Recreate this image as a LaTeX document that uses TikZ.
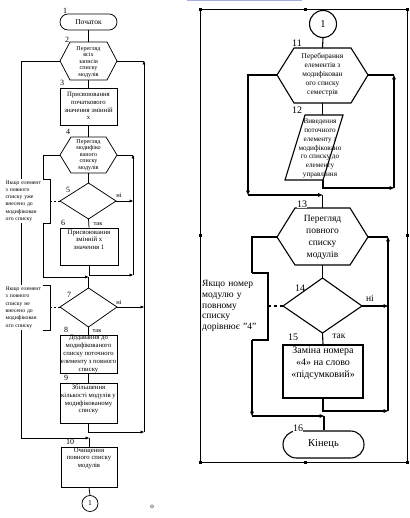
\documentclass[tikz,border=0pt]{standalone}
\usepackage{fontspec}
\setmainfont{Liberation Serif}
\usetikzlibrary{arrows.meta}
\definecolor{topblue}{RGB}{160,175,230}
\begin{document}
\begin{tikzpicture}[x=1pt,y=-1pt,
  ln/.style={line width=0.75pt},
  lnR/.style={line width=1.1pt},
  tip/.style={-{Triangle[length=3.4pt,width=2.8pt]}},
  tipR/.style={-{Triangle[length=4.4pt,width=3.6pt]}},
  t/.style={inner sep=0pt, align=center},
  fs/.style={font=\fontsize{6.7}{7.8}\selectfont},
  fh/.style={font=\fontsize{6.1}{6.5}\selectfont},
  fa/.style={font=\fontsize{5.7}{7.3}\selectfont},
  num/.style={inner sep=0.3pt, font=\fontsize{8}{8}\selectfont},
  numR/.style={inner sep=0.3pt, font=\fontsize{10}{10}\selectfont},
  lab/.style={inner sep=0pt, font=\fontsize{6.5}{6.5}\selectfont},
  labR/.style={inner sep=0pt, font=\fontsize{9.5}{9.5}\selectfont},
  boxL/.style={draw, ln, inner sep=0pt},
  boxR/.style={draw, lnR, inner sep=0pt},
  handle/.style={fill=black, minimum size=3pt, inner sep=0pt},
  annot/.style={fill=white, inner sep=0pt, align=left, anchor=west}
]
\useasboundingbox (0,0) rectangle (409,518);
\fill[white] (0,0) rectangle (409,518);
\draw[line width=0.8pt, topblue] (187,0.8) -- (302,0.8);

% ================= LEFT CHART =================
\node[boxL, rounded corners=8pt, minimum width=57, minimum height=16,
      font=\fontsize{7.5}{8}\selectfont] (t1) at (88.5,22) {Початок};
\node[num] (n1) at (65,11) {1};

% hexagon 2
\coordinate (h2W) at (60,61); \coordinate (h2E) at (117,61);
\coordinate (h2N) at (88.5,42); \coordinate (h2S) at (88.5,80);
\draw[ln] (h2W) -- (70,42) -- (107,42) -- (h2E) -- (107,80) -- (70,80) -- cycle;
\node[t,fh] (h2) at (88.5,62) {Перегляд\\всіх\\записів\\списку\\модулів};
\node[num, fill=white] (n2) at (67,40) {2};

% box 3
\node[boxL, minimum width=57, minimum height=37] (b3) at (88.5,106.5) {};
\node[t,fs] (b3t) at (88.5,106) {Присвоювання\\початкового\\значення змінній\\х};
\node[num] (n3) at (62,83) {3};

% hexagon 4
\coordinate (h4W) at (60,155); \coordinate (h4E) at (117,155);
\coordinate (h4N) at (88.5,137); \coordinate (h4S) at (88.5,173);
\draw[ln] (h4W) -- (71,137) -- (106,137) -- (h4E) -- (106,173) -- (71,173) -- cycle;
\node[t,fh] (h4) at (88.5,155) {Перегляд\\модифіко\\ваного\\списку\\модулів};
\node[num, fill=white] (n4) at (68,132) {4};

% diamond 5
\coordinate (d5N) at (88.5,183); \coordinate (d5E) at (116,201);
\coordinate (d5S) at (88.5,219); \coordinate (d5W) at (60,201);
\draw[ln] (d5N) -- (d5E) -- (d5S) -- (d5W) -- cycle;
\node[num] (n5) at (68,190) {5};
\node[lab] (ni5) at (119,195) {ні};
\node[lab] (tak5) at (98,224) {так};

% box 6
\node[boxL, minimum width=58, minimum height=37] (b6) at (89,246.5) {};
\node[t,fs,anchor=north] (b6t) at (89,229.5) {Присвоювання\\змінній х\\значення 1};
\node[num] (n6) at (63,223) {6};

% diamond 7
\coordinate (d7N) at (88.5,288); \coordinate (d7E) at (117,307);
\coordinate (d7S) at (88.5,327); \coordinate (d7W) at (60,307);
\draw[ln] (d7N) -- (d7E) -- (d7S) -- (d7W) -- cycle;
\node[num] (n7) at (69,295) {7};
\node[lab] (ni7) at (119,302) {ні};
\node[lab] (tak7) at (97,331) {так};

% box 8
\node[boxL, minimum width=57, minimum height=38] (b8) at (88.5,354) {};
\node[t,fs] (b8t) at (88.5,354) {Додавання до\\модифікованого\\списку поточного\\елементу з повного\\списку};
\node[num] (n8) at (66,330) {8};

% box 9
\node[boxL, minimum width=57, minimum height=40] (b9) at (88.5,403) {};
\node[t,fs,anchor=north] (b9t) at (88.5,384.5) {Збільшення\\кількості модулів у\\модифікованому\\списку};
\node[num] (n9) at (66,378) {9};

% box 10
\node[boxL, minimum width=56, minimum height=40] (b10) at (89,467) {};
\node[t,fs,anchor=north] (b10t) at (89,447.5) {Очищення\\повного списку\\модулів};
\node[num, fill=white] (n10) at (70,442) {10};

% connector 1
\node[draw, ln, circle, minimum size=16, inner sep=0pt, font=\fontsize{7.5}{8}\selectfont] (c1) at (90,503.5) {1};
\node[inner sep=0pt, font=\fontsize{7}{7}\selectfont] (o) at (152,507) {о};

% annotations left
\node[annot, fa, text width=38, minimum height=44] (a5) at (5.5,201)
  {Якщо елемент\\з повного\\списку уже\\внесено до\\модифікован\\ого списку};
\node[annot, fa, text width=38, minimum height=44] (a7) at (5.5,307.5)
  {Якщо елемент\\з повного\\списку не\\внесено до\\модифікован\\ого списку};

% connectors left
\draw[ln] (t1.south) -- (h2N);
\draw[ln] (h2S) -- (b3.north);
\draw[ln] (b3.south) -- (h4N);
\draw[ln] (h4S) -- (d5N);
\draw[ln] (d5S) -- (b6.north);
\coordinate (r4a) at (133,201);
\coordinate (r4b) at (133,275);
\coordinate (r4c) at (133,155);
\draw[ln,tip] (d5E) -- (r4a);
\draw[ln,tip] (b6.south) -- (89,275) -- (r4b);
\draw[ln] (h4E) -- (r4c);
\draw[ln,tip] (r4b) -- (r4c);
\coordinate (j7) at (88.5,277);
\draw[ln] (h4W) -- (43,155) -- (43,179);
\draw[ln] (43,223) -- (43,277);
\draw[ln,tip] (43,277) -- (j7);
\draw[ln] (j7) -- (d7N);
\draw[ln] (d7S) -- (b8.north);
\draw[ln] (b8.south) -- (b9.north);
\coordinate (r2a) at (144,307);
\coordinate (r2b) at (144,432);
\coordinate (r2c) at (144,61);
\draw[ln,tip] (d7E) -- (r2a);
\draw[ln,tip] (b9.south) -- (88.5,432) -- (r2b);
\draw[ln] (h2E) -- (r2c);
\draw[ln,tip] (r2b) -- (r2c);
\coordinate (j10) at (89,438);
\draw[ln] (h2W) -- (21,61) -- (21,179);
\draw[ln] (21,223) -- (21,285);
\draw[ln] (21,330) -- (21,438);
\draw[ln,tip] (21,438) -- (j10);
\draw[ln] (j10) -- (b10.north);
\draw[ln] (b10.south) -- (c1.north);

% brackets left
\draw[ln] (43,179) -- (50,179) -- (50,223) -- (43,223);
\draw[ln, dash pattern=on 2pt off 2pt] (50,201) -- (d5W);
\draw[ln] (43,285) -- (50,285) -- (50,330) -- (43,330);
\draw[ln, dash pattern=on 2pt off 2pt] (50,307) -- (d7W);

% ================= RIGHT CHART =================
\draw[line width=1pt] (200,10) rectangle (407.5,462);
\foreach \hx/\hy in {200/10, 305/10, 407.5/10, 200/235, 407.5/235, 200/462, 305/462, 407.5/462}
  \node[handle] at (\hx,\hy) {};

\node[draw, lnR, circle, minimum size=27, inner sep=0pt, fill=white,
      font=\fontsize{10.5}{11}\selectfont] (c2) at (323,24) {1};

% hexagon 11
\coordinate (h11W) at (277,75); \coordinate (h11E) at (368,75);
\coordinate (h11N) at (322.5,48); \coordinate (h11S) at (322.5,103);
\draw[lnR] (h11W) -- (294,48) -- (351,48) -- (h11E) -- (351,103) -- (294,103) -- cycle;
\node[t, font=\fontsize{7.4}{9}\selectfont] (h11) at (322.5,75) {Перебирання\\елементів з\\модифікован\\ого списку\\семестрів};
\node[numR, fill=white] (n11) at (297,43) {11};

% parallelogram 12
\coordinate (p12N) at (322.5,115); \coordinate (p12S) at (323,180);
\draw[lnR] (305,115) -- (343,115) -- (323,180) -- (285,180) -- cycle;
\node[t, font=\fontsize{7.2}{8.8}\selectfont] (p12) at (320,148.5) {Виведення\\поточного\\елементу з\\модифіковано\\го списку до\\елементу\\управління};
\node[numR, fill=white] (n12) at (297,110) {12};

% hexagon 13
\coordinate (h13W) at (277,237); \coordinate (h13E) at (368,237);
\coordinate (h13N) at (322.5,208); \coordinate (h13S) at (322.5,265);
\draw[lnR] (h13W) -- (295,208) -- (350,208) -- (h13E) -- (350,265) -- (295,265) -- cycle;
\node[t, font=\fontsize{9.5}{12}\selectfont] (h13) at (322.5,237) {Перегляд\\повного\\списку\\модулів};
\node[numR, fill=white] (n13) at (302,204) {13};

% diamond 14
\coordinate (d14N) at (322.5,278); \coordinate (d14E) at (362,306);
\coordinate (d14S) at (322.5,333); \coordinate (d14W) at (283,306);
\draw[lnR] (d14N) -- (d14E) -- (d14S) -- (d14W) -- cycle;
\node[numR] (n14) at (300,288) {14};
\node[labR] (ni14) at (370,298) {ні};
\node[labR] (tak14) at (339,336) {так};

% box 15
\node[boxR, minimum width=80, minimum height=53] (b15) at (323,371.5) {};
\node[t, font=\fontsize{10}{11.7}\selectfont, anchor=north] (b15t) at (323,347) {Заміна номера\\«4» на слово\\«підсумковий»};
\node[numR, fill=white] (n15) at (293,337) {15};

% terminator 16
\node[boxR, rounded corners=13.5pt, minimum width=81, minimum height=27,
      font=\fontsize{10.5}{11}\selectfont] (t16) at (323.5,444.5) {Кінець};
\node[numR, fill=white] (n16) at (298,428) {16};

% annotation 14
\node[annot, font=\fontsize{9.5}{10.7}\selectfont, text width=63, minimum height=66] (a14) at (202,306)
  {Якщо номер\\модулю у\\повному\\списку\\дорівнює "4"};

% connectors right
\draw[lnR] (c2.south) -- (h11N);
\draw[lnR] (h11S) -- (p12N);
\coordinate (r11a) at (394,188);
\coordinate (r11b) at (394,75);
\draw[lnR,tipR] (p12S) -- (323,188) -- (r11a);
\draw[lnR] (h11E) -- (r11b);
\draw[lnR,tipR] (r11a) -- (r11b);
\coordinate (l11a) at (248,195);
\coordinate (j13) at (322.5,195);
\draw[lnR,tipR] (h11W) -- (248,75) -- (l11a);
\draw[lnR,tipR] (l11a) -- (j13);
\draw[lnR] (j13) -- (h13N);
\draw[lnR] (h13S) -- (d14N);
\draw[lnR] (d14S) -- (b15.north);
\coordinate (r13a) at (388,306);
\coordinate (r13b) at (388,411);
\coordinate (r13c) at (388,237);
\draw[lnR,tipR] (d14E) -- (r13a);
\draw[lnR,tipR] (b15.south) -- (323,411) -- (r13b);
\draw[lnR] (h13E) -- (r13c);
\draw[lnR,tipR] (r13b) -- (r13c);
\coordinate (l13a) at (252,416);
\coordinate (j16) at (324,416);
\draw[lnR] (h13W) -- (252,237) -- (252,273);
\draw[lnR,tipR] (252,340) -- (l13a);
\draw[lnR,tipR] (l13a) -- (j16);
\draw[lnR] (j16) -- (t16.north -| j16);

% bracket 14
\draw[lnR] (252,273) -- (268,273) -- (268,340) -- (252,340);
\draw[lnR, dash pattern=on 3pt off 3pt] (268,306) -- (d14W);
\end{tikzpicture}
\end{document}
